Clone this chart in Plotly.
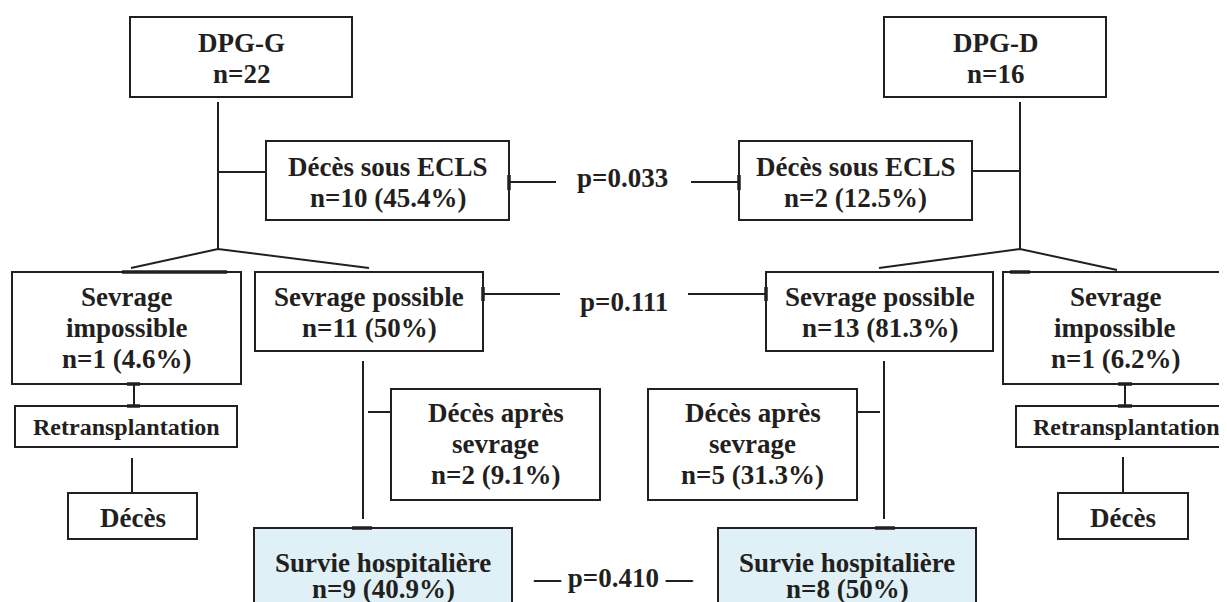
"""Flowchart: ECLS outcome by DPG-G vs DPG-D, drawn with Plotly shapes."""

import plotly.graph_objects as go

W, H = 1227, 602
PAGE_MARGIN = 8  # default <body> margin of the html page
INK = "#231f20"
SURVIE_FILL = "#dff0f6"
FONT = "Liberation Serif"

# --- chart content -------------------------------------------------------
groups = ["DPG-G", "DPG-D"]
group_n = [22, 16]
deces_ecls_n = [10, 2]
deces_ecls_pct = ["45.4%", "12.5%"]
sevrage_possible_n = [11, 13]
sevrage_possible_pct = ["50%", "81.3%"]
sevrage_impossible_n = [1, 1]
sevrage_impossible_pct = ["4.6%", "6.2%"]
deces_apres_n = [2, 5]
deces_apres_pct = ["9.1%", "31.3%"]
survie_n = [9, 8]
survie_pct = ["40.9%", "50%"]
p_values = ["0.033", "0.111", "0.410"]


def node_texts(i):
    """Text lines of each node; side 0 = left (G), side 1 = right (D)."""
    return {
        "group": [groups[i], f"n={group_n[i]}"],
        "ecls": ["Décès sous ECLS", f"n={deces_ecls_n[i]} ({deces_ecls_pct[i]})"],
        "imp": ["Sevrage", "impossible",
                f"n={sevrage_impossible_n[i]} ({sevrage_impossible_pct[i]})"],
        "pos": ["Sevrage possible",
                f"n={sevrage_possible_n[i]} ({sevrage_possible_pct[i]})"],
        "retx": ["Retransplantation"],
        "deces": ["Décès"],
        "apres": ["Décès après", "sevrage",
                  f"n={deces_apres_n[i]} ({deces_apres_pct[i]})"],
        "survie": ["Survie hospitalière", f"n={survie_n[i]} ({survie_pct[i]})"],
    }


# --- geometry (pixels, y downwards) -------------------------------------
# box: (x0, y0, x1, y1, first baseline, font size, line gap)
boxes = [
    {
        "group": (130, 17, 352, 97, 52, 27, 31),
        "ecls": (266, 141, 509, 220, 176, 27, 31),
        "imp": (12, 272, 241, 384, 306, 27, 31),
        "pos": (255, 272, 483, 351, 306, 27, 31),
        "retx": (15, 406, 237, 447, 435, 24, 31),
        "deces": (68, 493, 197, 539, 527, 27, 31),
        "apres": (391, 389, 600, 500, 422, 27, 31),
        "survie": (254, 528, 512, 640, 572, 27, 26),
    },
    {
        "group": (884, 17, 1106, 97, 52, 27, 31),
        "ecls": (739, 141, 972, 220, 176, 27, 31),
        "imp": (1003, 272, 1227, 384, 306, 27, 31),
        "pos": (766, 272, 993, 351, 306, 27, 31),
        "retx": (1016, 406, 1236, 447, 435, 24, 31),
        "deces": (1058, 493, 1188, 539, 527, 27, 31),
        "apres": (648, 389, 857, 500, 422, 27, 31),
        "survie": (718, 528, 976, 640, 572, 27, 26),
    },
]

# connector polylines
connectors = [
    [(218, 102), (218, 249)],
    [(218, 172), (266, 172)],
    [(131, 268), (218, 249), (369, 268)],
    [(134, 384), (134, 406)],
    [(132, 458), (132, 493)],
    [(363, 361), (363, 519)],
    [(368, 412), (391, 412)],
    [(1020, 102), (1020, 249)],
    [(972, 171), (1020, 171)],
    [(879, 268), (1020, 249), (1117, 270)],
    [(1125, 384), (1125, 406)],
    [(1123, 457), (1123, 492)],
    [(884, 361), (884, 519)],
    [(857, 412), (880, 412)],
    # p-value links
    [(509, 182), (556, 182)],
    [(691, 182), (739, 182)],
    [(483, 294), (560, 294)],
    [(688, 294), (766, 294)],
]
# short heavy marks where connectors meet boxes
marks = [
    [(122, 272), (227, 272)],
    [(1010, 272), (1030, 272)],
    [(127, 384), (140, 384)],
    [(127, 406), (140, 406)],
    [(1118, 384), (1132, 384)],
    [(1118, 406), (1132, 406)],
    [(352, 528), (372, 528)],
    [(875, 528), (895, 528)],
    [(509, 175), (509, 190)],
    [(739, 175), (739, 190)],
    [(483, 287), (483, 301)],
    [(766, 287), (766, 301)],
]
p_labels = [
    (622, 187, f"p={p_values[0]}"),
    (624, 311, f"p={p_values[1]}"),
    (613, 587, f"— p={p_values[2]} —"),
]

fig = go.Figure()
shapes, annotations = [], []

for side in (0, 1):
    texts = node_texts(side)
    for key, (x0, y0, x1, y1, base, size, gap) in boxes[side].items():
        shapes.append(dict(
            type="rect", x0=x0, y0=y0, x1=x1, y1=y1,
            line=dict(color=INK, width=2),
            fillcolor=SURVIE_FILL if key == "survie" else "white",
            layer="below",
        ))
        for k, line in enumerate(texts[key]):
            annotations.append(dict(
                x=(x0 + x1) / 2, y=base + k * gap - 0.34 * size,
                text=line, showarrow=False, xanchor="center", yanchor="middle",
                font=dict(family=FONT, size=size, color=INK, weight="bold"),
            ))

for pts in connectors:
    path = "M " + " L ".join(f"{x},{y}" for x, y in pts)
    shapes.append(dict(type="path", path=path, line=dict(color=INK, width=2)))

for (xa, ya), (xb, yb) in marks:
    shapes.append(dict(type="line", x0=xa, y0=ya, x1=xb, y1=yb,
                       line=dict(color=INK, width=3.5)))

for x, y, txt in p_labels:
    annotations.append(dict(
        x=x, y=y - 0.34 * 27, text=txt, showarrow=False,
        xanchor="center", yanchor="middle",
        font=dict(family=FONT, size=27, color=INK, weight="bold"),
    ))

# the page body adds an 8px margin; shrink the figure and shift the ranges so
# that data coordinates equal page pixels
fig.update_layout(
    width=W - PAGE_MARGIN, height=H - PAGE_MARGIN,
    margin=dict(l=0, r=0, t=0, b=0),
    paper_bgcolor="white", plot_bgcolor="white",
    xaxis=dict(range=[PAGE_MARGIN, W], visible=False, fixedrange=True),
    yaxis=dict(range=[H, PAGE_MARGIN], visible=False, fixedrange=True),
    shapes=shapes, annotations=annotations,
    showlegend=False,
)

fig.write_html("out.html", config={"displayModeBar": False})
